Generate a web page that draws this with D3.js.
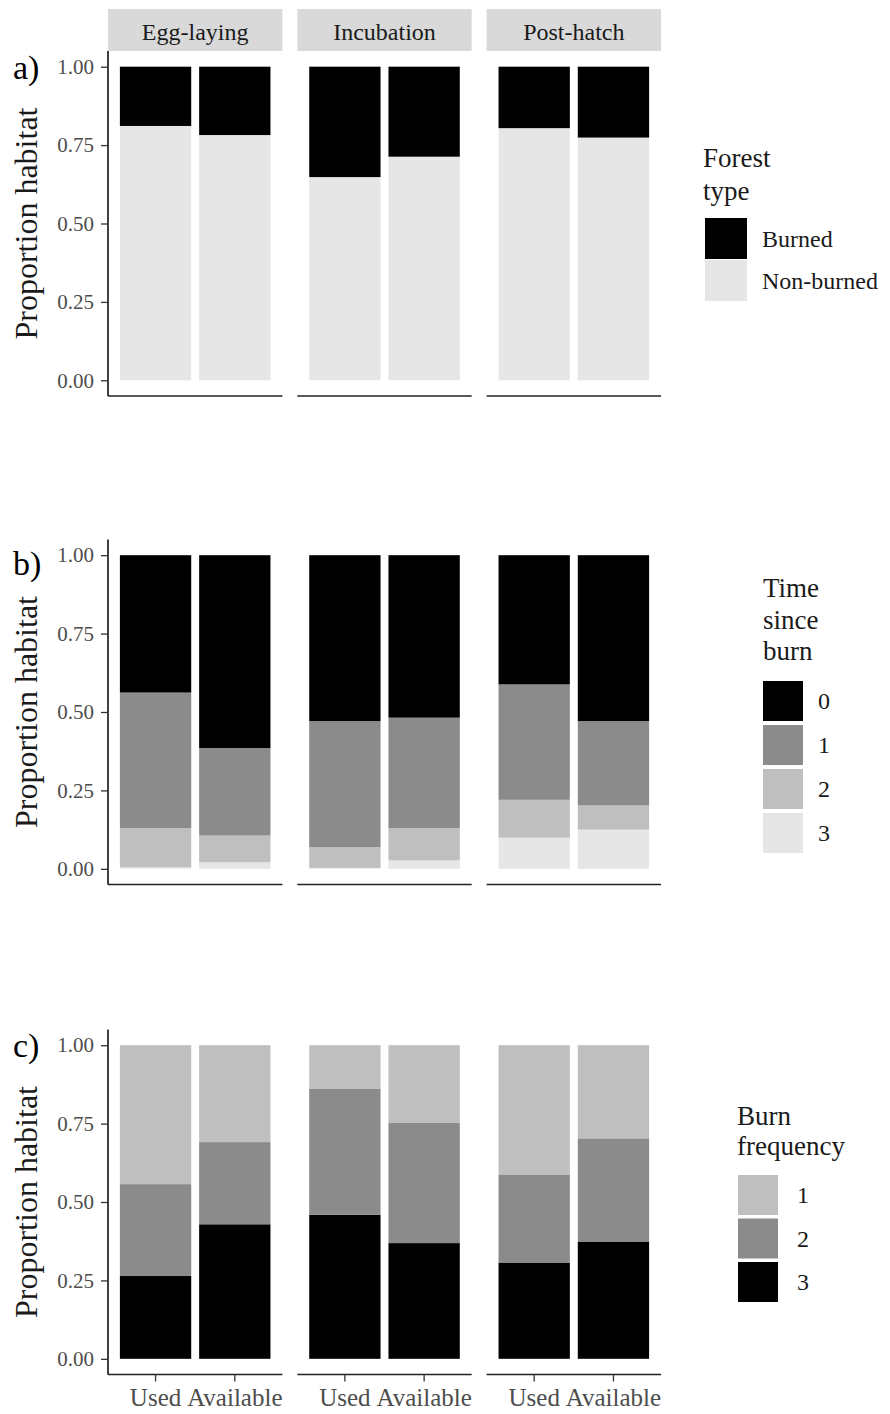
<!DOCTYPE html>
<html>
<head>
<meta charset="utf-8">
<script src="https://cdn.jsdelivr.net/npm/d3@7"></script>
<style>
  html, body { margin: 0; padding: 0; background: #ffffff; }
  svg { display: block; font-family: "Liberation Serif", "Times New Roman", serif; }
</style>
</head>
<body>
<svg id="chart" width="890" height="1414"></svg>
<script>
// ---- data ----
const phases = ["Egg-laying", "Incubation", "Post-hatch"];
const sources = ["Used", "Available"];
const yTicks = [0, 0.25, 0.5, 0.75, 1];

// (a) forest type, one value per phase x source (Used, Available)
const forestLevels = ["Burned", "Non-burned"];
const burned    = [0.189, 0.218, 0.352, 0.287, 0.196, 0.226];
const nonBurned = [0.811, 0.782, 0.648, 0.713, 0.804, 0.774];

// (b) time since burn (years)
const timeLevels = ["0", "1", "2", "3"];
const time0 = [0.438, 0.615, 0.529, 0.518, 0.412, 0.529];
const time1 = [0.432, 0.279, 0.402, 0.352, 0.368, 0.269];
const time2 = [0.125, 0.085, 0.066, 0.103, 0.121, 0.077];
const time3 = [0.005, 0.021, 0.003, 0.027, 0.099, 0.125];

// (c) burn frequency
const freqLevels = ["1", "2", "3"];
const freq1 = [0.443, 0.309, 0.138, 0.248, 0.412, 0.297];
const freq2 = [0.293, 0.262, 0.403, 0.383, 0.281, 0.329];
const freq3 = [0.264, 0.429, 0.459, 0.369, 0.307, 0.374];

// ---- helpers ----
function rows(levels, series) {
  const out = [];
  phases.forEach((p, i) => sources.forEach((s, j) => {
    const r = { phase: p, source: s };
    levels.forEach((lv, k) => { r[lv] = series[k][i * sources.length + j]; });
    out.push(r);
  }));
  return out;
}

const panels = [
  {
    tag: "a)", tagY: 79, top: 51, strips: true,
    levels: forestLevels, series: [burned, nonBurned],
    colors: ["#000000", "#e6e6e6"],
    legend: { title: ["Forest", "type"], titleX: 703, titleY: 167, lineH: 33,
              keyX: 705, keyY: 218, keyW: 42, keyH: 41, keyStep: 42, labelX: 762 }
  },
  {
    tag: "b)", tagY: 575, top: 539.5, strips: false,
    levels: timeLevels, series: [time0, time1, time2, time3],
    colors: ["#000000", "#8b8b8b", "#bfbfbf", "#e6e6e6"],
    legend: { title: ["Time", "since", "burn"], titleX: 763, titleY: 597, lineH: 31.5,
              keyX: 763, keyY: 681, keyW: 40, keyH: 40, keyStep: 44, labelX: 818 }
  },
  {
    tag: "c)", tagY: 1057, top: 1029.5, strips: false, xAxis: true,
    levels: freqLevels, series: [freq1, freq2, freq3],
    colors: ["#bfbfbf", "#8b8b8b", "#000000"],
    legend: { title: ["Burn", "frequency"], titleX: 737, titleY: 1125, lineH: 30,
              keyX: 738, keyY: 1175, keyW: 40, keyH: 40, keyStep: 43.5, labelX: 797 }
  }
];

const plotH = 345;
const stripTop = 9;
const svg = d3.select("#chart");

// facet columns
const fx = d3.scaleBand().domain(phases).range([108, 661]).paddingInner(0.079);
// bars within a facet: 0.9-wide bars with 0.6-unit expansion on each side
const bx = d3.scaleBand().domain(sources).range([0, fx.bandwidth()])
  .paddingInner(0.1).paddingOuter(0.15);

panels.forEach(pn => {
  const y = d3.scaleLinear().domain([-0.05, 1.05]).range([pn.top + plotH, pn.top]);
  const data = rows(pn.levels, pn.series);
  // first level is stacked on top, so stack from the last level upwards
  const stackKeys = pn.levels.slice().reverse();
  const stacked = d3.stack().keys(stackKeys)(data);
  const color = d3.scaleOrdinal().domain(pn.levels).range(pn.colors);

  const g = svg.append("g");

  // facet strips
  if (pn.strips) {
    const strip = g.append("g").selectAll("g").data(phases).join("g")
      .attr("transform", d => `translate(${fx(d)},${stripTop})`);
    strip.append("rect").attr("width", fx.bandwidth()).attr("height", pn.top - stripTop)
      .attr("fill", "#d9d9d9");
    strip.append("text").attr("x", fx.bandwidth() / 2).attr("y", 31)
      .attr("text-anchor", "middle").attr("font-size", 24).attr("fill", "#1a1a1a")
      .text(d => d);
  }

  // bars
  g.append("g").selectAll("g").data(stacked).join("g")
    .attr("fill", d => color(d.key))
    .selectAll("rect").data(d => d).join("rect")
    .attr("x", d => fx(d.data.phase) + bx(d.data.source))
    .attr("width", bx.bandwidth())
    .attr("y", d => y(d[1]))
    .attr("height", d => y(d[0]) - y(d[1]));

  // x axis line for every facet
  const xa = g.append("g").selectAll("g").data(phases).join("g")
    .attr("transform", d => `translate(${fx(d)},${pn.top + plotH})`);
  xa.each(function () {
    const ax = d3.axisBottom(bx).tickSize(pn.xAxis ? 7 : 0).tickSizeOuter(0);
    if (!pn.xAxis) ax.tickFormat("");
    const sel = d3.select(this).call(ax).attr("font-family", null).attr("font-size", null);
    sel.select(".domain").attr("stroke", "#222").attr("stroke-width", 1.6)
      .attr("d", `M0,0H${fx.bandwidth()}`);
    sel.selectAll(".tick line").attr("stroke", "#333").attr("stroke-width", 1.3);
    sel.selectAll(".tick text").attr("font-size", 25)
      .attr("fill", "#4d4d4d").attr("y", 14).attr("dy", "0.71em");
  });

  // y axis on the first facet
  const ya = g.append("g").attr("transform", "translate(108,0)")
    .call(d3.axisLeft(y).tickValues(yTicks).tickFormat(d3.format(".2f")).tickSize(7).tickPadding(7))
    .attr("font-family", null).attr("font-size", null);
  ya.select(".domain").attr("stroke", "#111").attr("stroke-width", 1.6)
    .attr("d", `M0,${pn.top}V${pn.top + plotH}`);
  ya.selectAll(".tick line").attr("stroke", "#333").attr("stroke-width", 1.3);
  ya.selectAll(".tick text").attr("font-size", 21).attr("fill", "#4d4d4d");

  // y title
  g.append("text")
    .attr("transform", `translate(37,${pn.top + plotH / 2}) rotate(-90)`)
    .attr("text-anchor", "middle").attr("font-size", 32).attr("fill", "#1a1a1a")
    .text("Proportion habitat");

  // panel tag
  g.append("text").attr("x", 13).attr("y", pn.tagY)
    .attr("font-size", 34).attr("fill", "#000").text(pn.tag);

  // legend
  const L = pn.legend;
  const lg = g.append("g");
  lg.selectAll("text.title").data(L.title).join("text").attr("class", "title")
    .attr("x", L.titleX).attr("y", (d, i) => L.titleY + i * L.lineH)
    .attr("font-size", 27).attr("fill", "#1a1a1a").text(d => d);
  const item = lg.selectAll("g.item").data(pn.levels).join("g").attr("class", "item")
    .attr("transform", (d, i) => `translate(0,${L.keyY + i * L.keyStep})`);
  item.append("rect").attr("x", L.keyX).attr("width", L.keyW).attr("height", L.keyH)
    .attr("fill", d => color(d));
  item.append("text").attr("x", L.labelX).attr("y", L.keyH / 2).attr("dy", "0.35em")
    .attr("font-size", 24).attr("fill", "#1a1a1a").text(d => d);
});
</script>
</body>
</html>
